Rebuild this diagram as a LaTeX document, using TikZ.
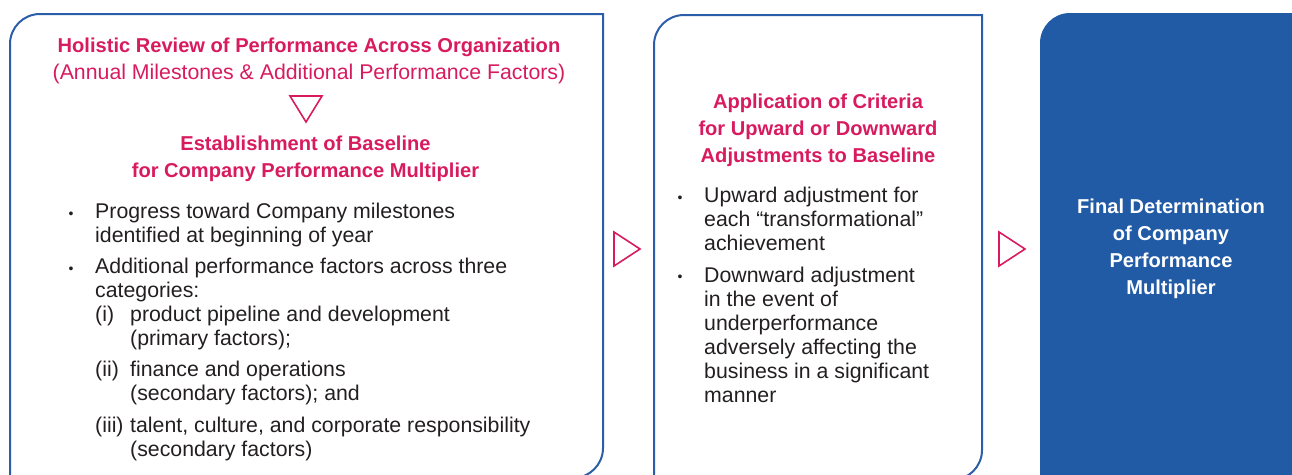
\documentclass[tikz,border=0pt]{standalone}
\usepackage{fontspec}
\setmainfont{Liberation Sans}
\usepackage{xcolor}
\usepackage{tikz}
\usetikzlibrary{positioning, calc}
\definecolor{reviewblue}{HTML}{2B5EA8}
\definecolor{reviewfill}{HTML}{215AA5}
\definecolor{reviewpink}{HTML}{D81B5E}
\definecolor{reviewtext}{HTML}{231F20}

\begin{document}
\begin{tikzpicture}[x=1pt, y=1pt,
    boxline/.style={draw=reviewblue, line width=2pt},
    headtext/.style={font=\fontsize{20.1}{27}\selectfont\bfseries, color=reviewpink, align=center, anchor=base, inner sep=0pt},
    whitetext/.style={font=\fontsize{20.1}{26.7}\selectfont\bfseries, color=white, align=center, anchor=base, inner sep=0pt},
    bodytext/.style={font=\fontsize{21.3}{24}\selectfont, color=reviewtext, align=left, anchor=base west, inner sep=0pt},
    dot/.style={font=\fontsize{14}{14}\selectfont, color=reviewtext, anchor=base, inner sep=0pt},
    flowmark/.style={draw=reviewpink, line width=1.6pt, line join=miter}
]
    \useasboundingbox (0,0) rectangle (1292,-474);
    \clip (0,0) rectangle (1292,-474);

    % Review - left box
    \draw[boxline] (10,-500) -- (10,-44) arc[start angle=180, end angle=90, radius=30]
        -- (603,-14) -- (603,-448) arc[start angle=0, end angle=-90, radius=30] -- (10,-478);

    % Criteria - middle box
    \draw[boxline] (654,-500) -- (654,-45) arc[start angle=180, end angle=90, radius=30]
        -- (982,-15) -- (982,-450) arc[start angle=0, end angle=-90, radius=30] -- (654,-480);

    % Final - right box
    \fill[reviewfill] (1040,-500) -- (1040,-43) arc[start angle=180, end angle=90, radius=30]
        -- (1300,-13) -- (1300,-500) -- cycle;

    % Left box texts (base = last line)
    \node[headtext] (review) at (309,-79) {Holistic Review of Performance Across Organization\\
        {\mdseries\fontsize{21.3}{27}\selectfont (Annual Milestones \& Additional Performance Factors)}};
    \coordinate (down) at (306,-109);
    \draw[flowmark] ($(down)+(-16,13)$) -- ($(down)+(16,13)$) -- ($(down)+(0,-13)$) -- cycle;
    \node[headtext] (baseline) at (305.5,-177) {Establishment of Baseline\\for Company Performance Multiplier};

    \node[dot] (dot1) at (71,-218) {•};
    \node[bodytext] (milestones) at (95,-242) {Progress toward Company milestones\\identified at beginning of year};
    \node[dot] (dot2) at (71,-273) {•};
    \node[bodytext] (factors) at (95,-297) {Additional performance factors across three\\categories:};
    \node[bodytext] (labeli) at (95,-321) {(i)};
    \node[bodytext] (pipeline) at (130,-345) {product pipeline and development\\(primary factors);};
    \node[bodytext] (labelii) at (95,-376) {(ii)};
    \node[bodytext] (finance) at (130,-400) {finance and operations\\(secondary factors); and};
    \node[bodytext] (labeliii) at (95,-432) {(iii)};
    \node[bodytext] (talent) at (130,-456) {talent, culture, and corporate responsibility\\(secondary factors)};

    % Middle box texts
    \node[headtext] (criteria) at (818,-162) {Application of Criteria\\for Upward or Downward\\Adjustments to Baseline};
    \node[dot] (dot3) at (680,-202) {•};
    \node[bodytext] (upward) at (704,-250) {Upward adjustment for\\each “transformational”\\achievement};
    \node[dot] (dot4) at (680,-281) {•};
    \node[bodytext] (downward) at (704,-402) {Downward adjustment\\in the event of\\underperformance\\adversely affecting the\\business in a significant\\manner};

    % Right box text
    \node[whitetext] (final) at (1171,-294) {Final Determination\\of Company\\Performance\\Multiplier};

    % Flow marks between boxes
    \coordinate (step1) at (627,-249);
    \coordinate (step2) at (1012,-249);
    \foreach \s in {step1, step2}
        \draw[flowmark] ($(\s)+(-13,17)$) -- ($(\s)+(13,0)$) -- ($(\s)+(-13,-17)$) -- cycle;
\end{tikzpicture}
\end{document}
